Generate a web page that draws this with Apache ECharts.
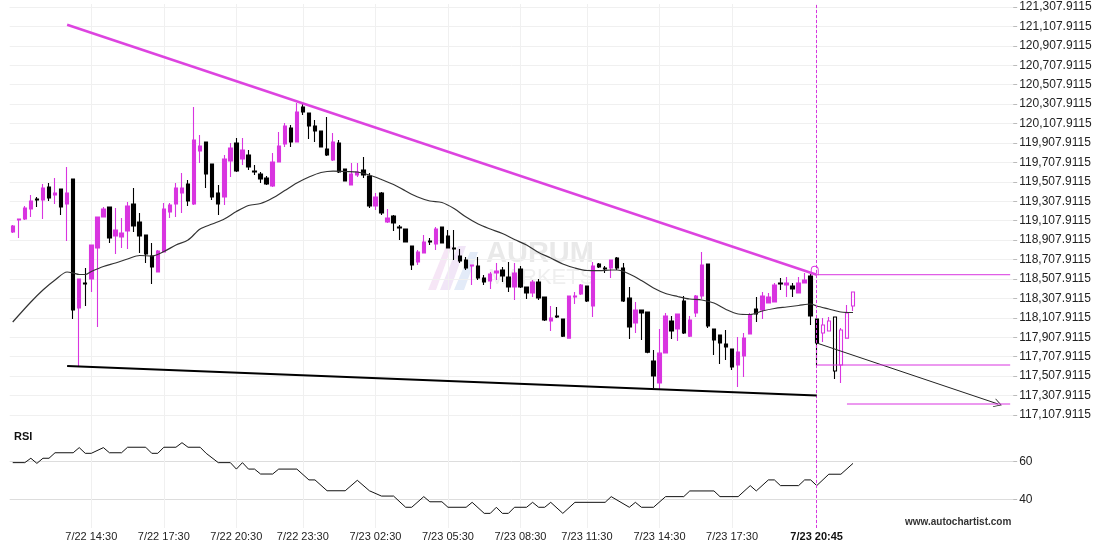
<!DOCTYPE html>
<html><head><meta charset="utf-8">
<script src="https://cdn.jsdelivr.net/npm/echarts@6/dist/echarts.min.js"></script>
<style>html,body{margin:0;padding:0;background:#fff}#c{width:1110px;height:550px}</style>
</head><body><div id="c"></div>
<script>
// ---------- DATA ----------
const tickIdx = [13,25,37,48,60,72,84,95,107,119,133];
const tickLabels = ['7/22 14:30','7/22 17:30','7/22 20:30','7/22 23:30','7/23 02:30','7/23 05:30','7/23 08:30','7/23 11:30','7/23 14:30','7/23 17:30','7/23 20:45'];
const boldTick = '7/23 20:45';
const nCats = 166;
const patternEnd = 133;   // last candle of the pattern
const open = [
118991.5,119115.0,119125.3,119228.3,119331.2,119320.9,119454.7,119372.4,119434.1,119279.7,
119537.0,118209.3,118466.6,118507.8,118826.8,119145.9,119248.8,118950.4,118940.1,119001.8,
119279.7,119094.5,118960.7,118744.5,118579.8,118785.7,119197.4,119279.7,119393.0,119485.6,
119279.7,119825.3,119917.9,119691.4,119393.0,119351.8,119722.3,119907.6,119742.9,119784.1,
119619.4,119588.5,119547.3,119465.0,119712.0,119897.3,120062.0,119917.9,120278.1,120216.4,
120082.6,120031.1,119845.8,119732.6,119907.6,119640.0,119475.3,119578.2,119629.7,119567.9,
119259.1,119393.0,119094.5,119156.2,119043.0,119022.4,118847.4,118682.7,118775.4,118898.9,
118868.0,119043.0,118950.4,118826.8,118744.5,118703.3,118641.6,118641.6,118518.0,118487.2,
118569.5,118600.4,118528.3,118425.4,118610.7,118425.4,118363.7,118476.9,118322.5,118075.4,
118126.9,118096.0,117899.5,118322.5,118353.4,118435.7,118229.8,118662.2,118621.0,118621.0,
118724.0,118621.0,118312.2,118054.9,118188.7,118167.2,117663.7,117437.3,117746.1,118075.4,
117993.1,118281.3,117920.0,118157.8,118332.8,118662.2,117993.1,117931.3,117838.7,117787.3,
117622.6,117715.2,117941.6,118199.0,118188.7,118260.7,118271.0,118466.6,118446.0,118435.7,
118363.7,118466.6,118538.6,118096.0,117951.9,117972.5,118116.6,117622.6,117899.5,118229.8];
const close = [
119053.3,119125.3,119238.6,119310.6,119320.9,119444.4,119341.5,119393.0,119248.8,119393.0,
118188.7,118507.8,118456.3,118857.7,119145.9,119228.3,118929.8,119012.1,118981.2,119259.1,
119053.3,118950.4,118765.1,118631.3,118796.0,119228.3,119269.4,119444.4,119444.4,119310.6,
119938.5,119876.7,119588.5,119351.8,119279.7,119742.9,119856.1,119619.4,119835.5,119660.6,
119609.1,119537.0,119485.6,119712.0,119876.7,120082.6,119917.9,120226.7,120226.7,120082.6,
120031.1,119866.4,119784.1,119917.9,119609.1,119516.5,119588.5,119609.1,119578.2,119259.1,
119351.8,119187.1,119135.6,119084.2,119032.7,118888.6,118651.9,118785.7,118888.6,118888.6,
119022.4,118878.3,118826.8,118816.5,118693.0,118621.0,118651.9,118518.0,118476.9,118559.2,
118590.1,118538.6,118425.4,118569.5,118425.4,118363.7,118476.9,118312.2,118085.7,118106.3,
118116.6,117920.0,118332.8,118332.8,118446.0,118281.3,118641.6,118631.3,118610.7,118703.3,
118621.0,118281.3,118013.7,118188.7,118157.8,117754.9,117509.3,117744.6,118126.9,117972.5,
118147.5,117951.9,118085.7,118332.8,118651.9,118024.0,117879.9,117849.0,117807.8,117602.0,
117756.4,117899.5,118137.2,118147.5,118332.8,118322.5,118446.0,118456.3,118466.6,118404.8,
118466.6,118497.5,118126.9,117849.0,118034.3,118075.4,117560.8,117982.8,118157.8,118373.9];
const high = [
119063.6,119125.3,119259.1,119372.4,119351.8,119485.6,119495.9,119547.3,119434.1,119660.6,
119537.0,118507.8,118621.0,118857.7,119145.9,119248.8,119248.8,119238.6,119135.6,119300.3,
119444.4,119187.1,118960.7,118878.3,118806.3,119290.0,119290.0,119495.9,119598.8,119526.8,
120278.1,119989.9,119917.9,119691.4,119475.3,119784.1,119907.6,119959.1,119959.1,119835.5,
119681.2,119609.1,119567.9,119804.7,120020.8,120113.5,120092.9,120319.3,120309.0,120216.4,
120144.3,120031.1,120175.2,120010.5,119938.5,119640.0,119701.7,119701.7,119763.5,119598.8,
119393.0,119403.3,119228.3,119166.5,119063.6,119022.4,118847.4,118806.3,118960.7,118929.8,
119043.0,119043.0,119012.1,119012.1,118816.5,118734.2,118651.9,118734.2,118548.9,118579.8,
118672.4,118631.3,118682.7,118672.4,118641.6,118425.4,118497.5,118507.8,118322.5,118229.8,
118219.5,118096.0,118332.8,118373.9,118456.3,118435.7,118682.7,118672.4,118641.6,118703.3,
118734.2,118672.4,118425.4,118271.0,118188.7,118167.2,117777.0,117993.1,118157.8,118126.9,
118147.5,118332.8,118126.9,118343.1,118785.7,118662.2,117993.1,117931.3,117982.8,117787.3,
117909.8,117951.9,118157.8,118322.5,118373.9,118363.7,118466.6,118518.0,118528.3,118466.6,
118528.3,118569.5,118559.2,118096.0,118106.3,118116.6,118116.6,118003.4,118240.1,118373.9];
const low = [
118981.2,118929.8,119115.0,119145.9,119248.8,119125.3,119310.6,119279.7,119166.5,118898.9,
118096.0,117612.3,118229.8,118373.9,118013.7,119145.9,118878.3,118765.1,118826.8,118816.5,
118991.5,118775.4,118672.4,118456.3,118579.8,118785.7,119135.6,119145.9,119187.1,119259.1,
119269.4,119701.7,119444.4,119320.9,119166.5,119269.4,119557.6,119609.1,119681.2,119629.7,
119578.2,119495.9,119475.3,119454.7,119712.0,119866.4,119866.4,119917.9,120195.8,119948.8,
119917.9,119866.4,119773.8,119722.3,119598.8,119516.5,119475.3,119557.6,119547.3,119238.6,
119218.0,119166.5,119084.2,119001.8,118909.2,118888.6,118600.4,118651.9,118775.4,118857.7,
118806.3,118878.3,118826.8,118703.3,118672.4,118600.4,118446.0,118497.5,118446.0,118404.8,
118497.5,118476.9,118373.9,118291.6,118415.1,118301.9,118322.5,118291.6,118075.4,117972.5,
118106.3,117909.8,117899.5,118250.4,118343.1,118271.0,118116.6,118621.0,118569.5,118518.0,
118600.4,118271.0,117890.2,117951.9,117879.9,117744.6,117385.8,117365.2,117746.1,117890.2,
117869.6,117941.6,117909.8,118116.6,118301.9,118003.4,117725.5,117632.9,117674.0,117571.1,
117396.1,117499.0,117941.6,118065.2,118096.0,118260.7,118271.0,118394.5,118322.5,118322.5,
118363.7,118466.6,118034.3,117612.3,117859.3,117972.5,117478.5,117437.3,117899.5,118178.4];
const maPoints = [[0,118065.2],[3,118271.0],[5,118394.5],[7,118497.5],[9,118579.8],[10,118569.5],[11,118554.1],[12,118554.1],[13,118585.0],[15,118636.4],[17,118672.4],[19,118713.6],[21,118749.6],[23,118744.5],[25,118790.8],[27,118857.7],[29,118909.2],[31,119022.4],[33,119073.9],[35,119125.3],[37,119202.5],[39,119264.3],[41,119284.9],[43,119341.5],[45,119418.7],[47,119495.9],[49,119557.6],[51,119604.0],[53,119619.4],[55,119614.3],[57,119609.1],[59,119578.2],[61,119531.9],[63,119480.4],[65,119413.5],[67,119351.8],[69,119310.6],[71,119295.2],[73,119233.4],[75,119145.9],[77,119073.9],[79,119022.4],[81,118976.1],[83,118914.3],[85,118857.7],[87,118780.5],[89,118723.9],[91,118662.2],[93,118621.0],[95,118595.3],[97,118593.2],[99,118600.4],[100,118600.4],[102,118559.2],[104,118492.4],[106,118415.1],[108,118358.5],[110,118327.6],[112,118301.9],[114,118291.6],[116,118260.7],[118,118193.8],[120,118147.5],[122,118142.4],[124,118178.4],[126,118204.1],[128,118219.5],[130,118235.0],[132,118250.4],[133,118229.8],[135,118198.9],[137,118168.1],[139,118163.0]];
const rsiPoints = [[0,59.3],[2,59.3],[3,61.6],[4,58.9],[5,61.6],[6,61.6],[7,64.5],[10,64.5],[11,67.2],[12,64.2],[13,64.2],[15,67.2],[16,64.5],[18,64.5],[19,67.4],[22,67.4],[23,64.2],[24,64.2],[25,67.4],[27,67.4],[28,69.8],[29,67.4],[31,67.4],[32,64.2],[34,59.3],[36,59.3],[37,55.9],[38,59.3],[39,55.9],[40,55.9],[41,53.3],[43,53.3],[44,55.9],[47,55.9],[49,50.2],[50,50.2],[52,44.5],[55,44.5],[57,50.0],[59,44.5],[61,41.7],[63,41.7],[65,35.8],[66,35.8],[68,41.4],[69,38.7],[71,38.7],[72,35.8],[75,35.8],[76,38.4],[78,32.6],[79,32.6],[80,35.8],[81,32.6],[82,32.6],[83,35.8],[85,35.8],[86,38.4],[87,35.8],[88,35.8],[89,38.4],[91,32.6],[93,38.4],[98,38.4],[99,41.4],[102,35.8],[103,38.4],[104,35.8],[106,35.8],[108,41.4],[111,41.4],[112,44.4],[116,44.4],[117,41.4],[120,41.4],[122,47.2],[123,44.4],[125,50.2],[126,50.2],[127,47.2],[130,47.2],[131,50.2],[132,50.2],[133,47.2],[135,53.2],[137,53.2],[139,58.9]];
const resistance = [[9,121125.3],[133,118552.0]];
const support = [[9,117612.3],[133,117308.6]];
const resistanceLevel = 118552.0;
const supportLevel = 117622.6;
const targetLevel = 117221.1;
const targetStart = 138;
const arrowFrom = [133,117849.0];
const arrowTo = [163,117221.1];
const priceMin = 117107.9115, priceMax = 121307.9115, priceStep = 200;

// ---------- BUILD ----------
const categories = [];
(function(){ let t = Date.UTC(2024,6,22,11,15); for(let i=0;i<nCats;i++){ const d=new Date(t+i*900000);
  categories.push((d.getUTCMonth()+1)+'/'+d.getUTCDate()+' '+String(d.getUTCHours()).padStart(2,'0')+':'+String(d.getUTCMinutes()).padStart(2,'0')); }})();
const mainData = [], postData = [];
for (let i=0;i<nCats;i++){
  const empty=['-','-','-','-'];
  if (i<open.length){
    const v=[open[i],close[i],low[i],high[i]];
    if (i<=patternEnd){ mainData.push(v); postData.push(empty);} else { mainData.push(empty); postData.push(v);} 
  } else { mainData.push(empty); postData.push(empty); }
}
const MAG = '#d935e0';
const font = 'Liberation Sans, Arial, sans-serif';
const isTick = (idx) => tickIdx.indexOf(idx) >= 0;
const chart = echarts.init(document.getElementById('c'), null, {renderer:'canvas'});
const priceFmt = v => { const k = Math.round((v - priceMin) / priceStep); const p = priceMin + k * priceStep;
  return p.toLocaleString('en-US',{minimumFractionDigits:4, maximumFractionDigits:4}); };

chart.setOption({
  animation:false,
  backgroundColor:'#fff',
  grid:[
    {left:9.7, right:96.8, top:7, bottom:135, outerBoundsMode:'none'},
    {left:9.7, right:96.8, top:461.3, bottom:50.7, outerBoundsMode:'none'},
    {left:12.7, right:99.9, top:4, bottom:22, outerBoundsMode:'none'}
  ],
  xAxis:[
    {type:'category', gridIndex:0, data:categories, show:false, boundaryGap:true},
    {type:'category', gridIndex:1, data:categories, show:false, boundaryGap:true},
    {type:'category', gridIndex:2, data:categories, boundaryGap:false,
      axisLine:{show:false}, axisTick:{show:false},
      axisLabel:{interval:(i)=>isTick(i), margin:3, fontFamily:font, fontSize:11, color:'#222',
        formatter:(val)=>{ const k=tickIdx.indexOf(categories.indexOf(val)); if(k<0) return ''; const s=tickLabels[k]; return s===boldTick?'{b|'+s+'}':s; },
        rich:{b:{fontWeight:'bold', fontSize:11, fontFamily:font, color:'#111'}}},
      splitLine:{show:true, interval:(i)=>isTick(i), lineStyle:{color:'#f0f0f0', width:1}}}
  ],
  yAxis:[
    {type:'value', gridIndex:0, position:'right', min:priceMin, max:priceMax, interval:priceStep,
      axisLine:{show:false}, axisTick:{show:true, length:4, lineStyle:{color:'#bbb'}},
      axisLabel:{margin:6, fontFamily:font, fontSize:12, color:'#222', formatter:priceFmt},
      splitLine:{lineStyle:{color:'#f0f0f0'}}},
    {type:'value', gridIndex:1, position:'right', min:40, max:60, interval:20,
      axisLine:{show:false}, axisTick:{show:true, length:4, lineStyle:{color:'#bbb'}},
      axisLabel:{margin:6, fontFamily:font, fontSize:12, color:'#222'},
      splitLine:{lineStyle:{color:'#dddddd'}}},
    {type:'value', gridIndex:2, min:0, max:1, show:false}
  ],
  graphic:[
    {type:'polygon', z:-10, silent:true, shape:{points:[[428,290],[446,246],[452,246],[436,290]]}, style:{fill:'#f6e6f6'}},
    {type:'polygon', z:-10, silent:true, shape:{points:[[440,290],[458,246],[466,246],[450,290]]}, style:{fill:'#f1e6f7'}},
    {type:'polygon', z:-10, silent:true, shape:{points:[[454,290],[470,252],[478,252],[464,290]]}, style:{fill:'#e3ebf8'}},
    {type:'text', z:-10, silent:true, left:486, top:239, style:{text:'AURUM', font:'bold 29px '+font, fill:'#e9e9e9'}},
    {type:'text', z:-10, silent:true, left:488, top:267, style:{text:'MARKETS', font:'22px '+font, fill:'#efefef'}},
    {type:'text', left:14, top:431, style:{text:'RSI', font:'bold 11px '+font, fill:'#111'}},
    {type:'text', left:905, top:517, style:{text:'www.autochartist.com', font:'bold 10px '+font, fill:'#333'}}
  ],
  series:[
    {type:'line', xAxisIndex:2, yAxisIndex:2, data:[], silent:true,
      markLine:{symbol:'none', silent:true, label:{show:false}, lineStyle:{type:[3,2], color:MAG, width:1}, data:[{xAxis:categories[patternEnd]}]}},
    {type:'candlestick', xAxisIndex:0, yAxisIndex:0, data:mainData, barWidth:3.9,
      itemStyle:{color:MAG, color0:'#000', borderColor:MAG, borderColor0:'#000', borderWidth:1.1}},
    {type:'candlestick', xAxisIndex:0, yAxisIndex:0, data:postData, barWidth:3.9,
      itemStyle:{color:'#fff', color0:'#fff', borderColor:MAG, borderColor0:'#000', borderWidth:1.1}},
    {type:'line', xAxisIndex:0, yAxisIndex:0, data:maPoints, showSymbol:false, smooth:0.3, z:4,
      lineStyle:{color:'#333', width:1.2}},
    {type:'line', xAxisIndex:0, yAxisIndex:0, data:resistance, showSymbol:false, z:5,
      lineStyle:{color:'#dd44e0', width:2.5},
      markPoint:{symbol:'path://M0,10 L0,4 Q0,0 4,0 Q8,0 8,4 L8,10', symbolSize:[7,9], symbolOffset:[-2,-4], silent:true,
        itemStyle:{color:'rgba(0,0,0,0)', borderColor:MAG, borderWidth:1}, label:{show:false},
        data:[{coord:[patternEnd, resistanceLevel]}]}},
    {type:'line', xAxisIndex:0, yAxisIndex:0, data:support, showSymbol:false, z:5,
      lineStyle:{color:'#000', width:2}},
    {type:'line', xAxisIndex:0, yAxisIndex:0, data:[[patternEnd,resistanceLevel],[nCats-1,resistanceLevel]], showSymbol:false, z:5,
      lineStyle:{color:MAG, width:1}},
    {type:'line', xAxisIndex:0, yAxisIndex:0, data:[[patternEnd,supportLevel],[nCats-1,supportLevel]], showSymbol:false, z:5,
      lineStyle:{color:MAG, width:1}},
    {type:'line', xAxisIndex:0, yAxisIndex:0, data:[[targetStart,targetLevel],[nCats-1,targetLevel]], showSymbol:false, z:5,
      lineStyle:{color:MAG, width:1}},
    {type:'line', xAxisIndex:0, yAxisIndex:0, data:[], z:6,
      markLine:{silent:true, symbol:['none','path://M5,0 L10,10 L9,10 L5,2 L1,10 L0,10 Z'], symbolSize:[9,8], label:{show:false},
        lineStyle:{color:'#222', width:1, type:'solid'},
        data:[[{coord:arrowFrom},{coord:arrowTo}]]}},
    {type:'line', xAxisIndex:1, yAxisIndex:1, data:rsiPoints, showSymbol:false, clip:false,
      lineStyle:{color:'#111', width:1}}
  ]
});
</script></body></html>
